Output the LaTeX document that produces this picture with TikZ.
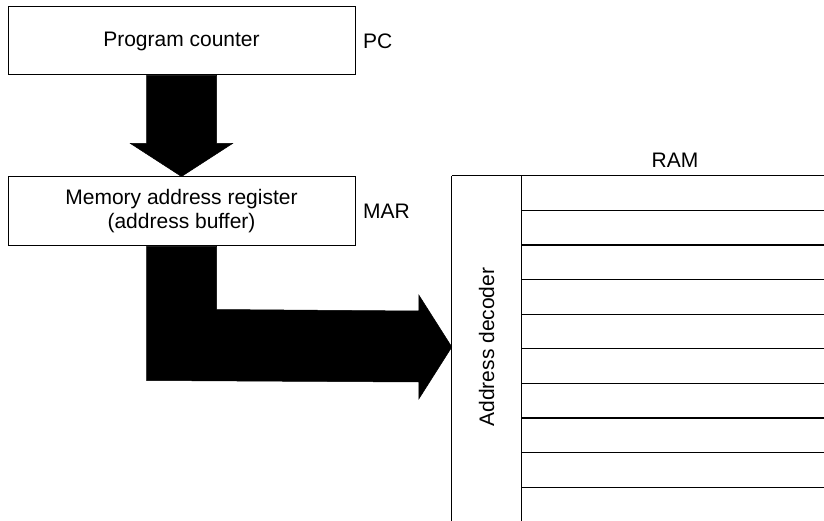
\documentclass[tikz,border=0pt]{standalone}
\usepackage{fontspec}
\setmainfont{Liberation Sans}
\usetikzlibrary{calc}
\begin{document}
\begin{tikzpicture}[x=1pt,y=-1pt,
  box/.style={draw, line width=1pt, minimum width=347pt, inner sep=0pt, align=center, font=\fontsize{21}{24}\selectfont},
  lbl/.style={anchor=west, inner sep=0pt, font=\fontsize{21}{24}\selectfont},
  bigarrow/.style={fill=black, draw=black, line width=0.5pt},
  ramline/.style={line width=1.3pt},
  decline/.style={line width=1pt}]
\useasboundingbox (0,0) rectangle (824,521);
\node[box, minimum height=68pt] (pc) at (181.5,41) {Program counter};
\node[lbl] (pcl) at (363,41) {PC};
\node[box, minimum height=69pt] (mar) at (181.5,211.5) {Memory address register\\(address buffer)};
\node[lbl] (marl) at (363,211) {MAR};
\node[inner sep=0pt, minimum width=69pt, minimum height=342pt] (dec) at (486.5,347) {};
\node[rotate=90, inner sep=0pt, font=\fontsize{21}{24}\selectfont] (dect) at (dec.center) {Address decoder};
\node[inner sep=0pt, font=\fontsize{21}{24}\selectfont] (ram) at (675,160) {RAM};
% arrow PC -> MAR
\fill[bigarrow] ($(pc.south)+(-35,0)$) -- ($(pc.south)+(35,0)$) -- ($(pc.south)+(35,68)$) -- ($(pc.south)+(51,68)$) -- (mar.north) -- ($(pc.south)+(-51,68)$) -- ($(pc.south)+(-35,68)$) -- cycle;
% L arrow MAR -> decoder
\coordinate (hb) at ($(dec.west)+(-33,0)$);
\fill[bigarrow] ($(mar.south)+(-35,0)$) -- ($(mar.south)+(35,0)$) -- ($(mar.south)+(35,63)$) -- ($(hb)+(0,-36)$) -- ($(hb)+(0,-52)$) -- (dec.west) -- ($(hb)+(0,52)$) -- ($(hb)+(0,35)$) -- ($(mar.south)+(-35,134)$) -- cycle;
% decoder and RAM
\draw[decline] (dec.north west) -- ++(0,345);
\draw[decline] (dec.north east) -- ++(0,345);
\draw[decline] (dec.north west) -- ++(372,0);
\foreach \k in {1,...,9} {
  \draw[ramline] ($(dec.north east)+(0,{34.6*\k})$) -- ++(303,0);
}
\end{tikzpicture}
\end{document}
